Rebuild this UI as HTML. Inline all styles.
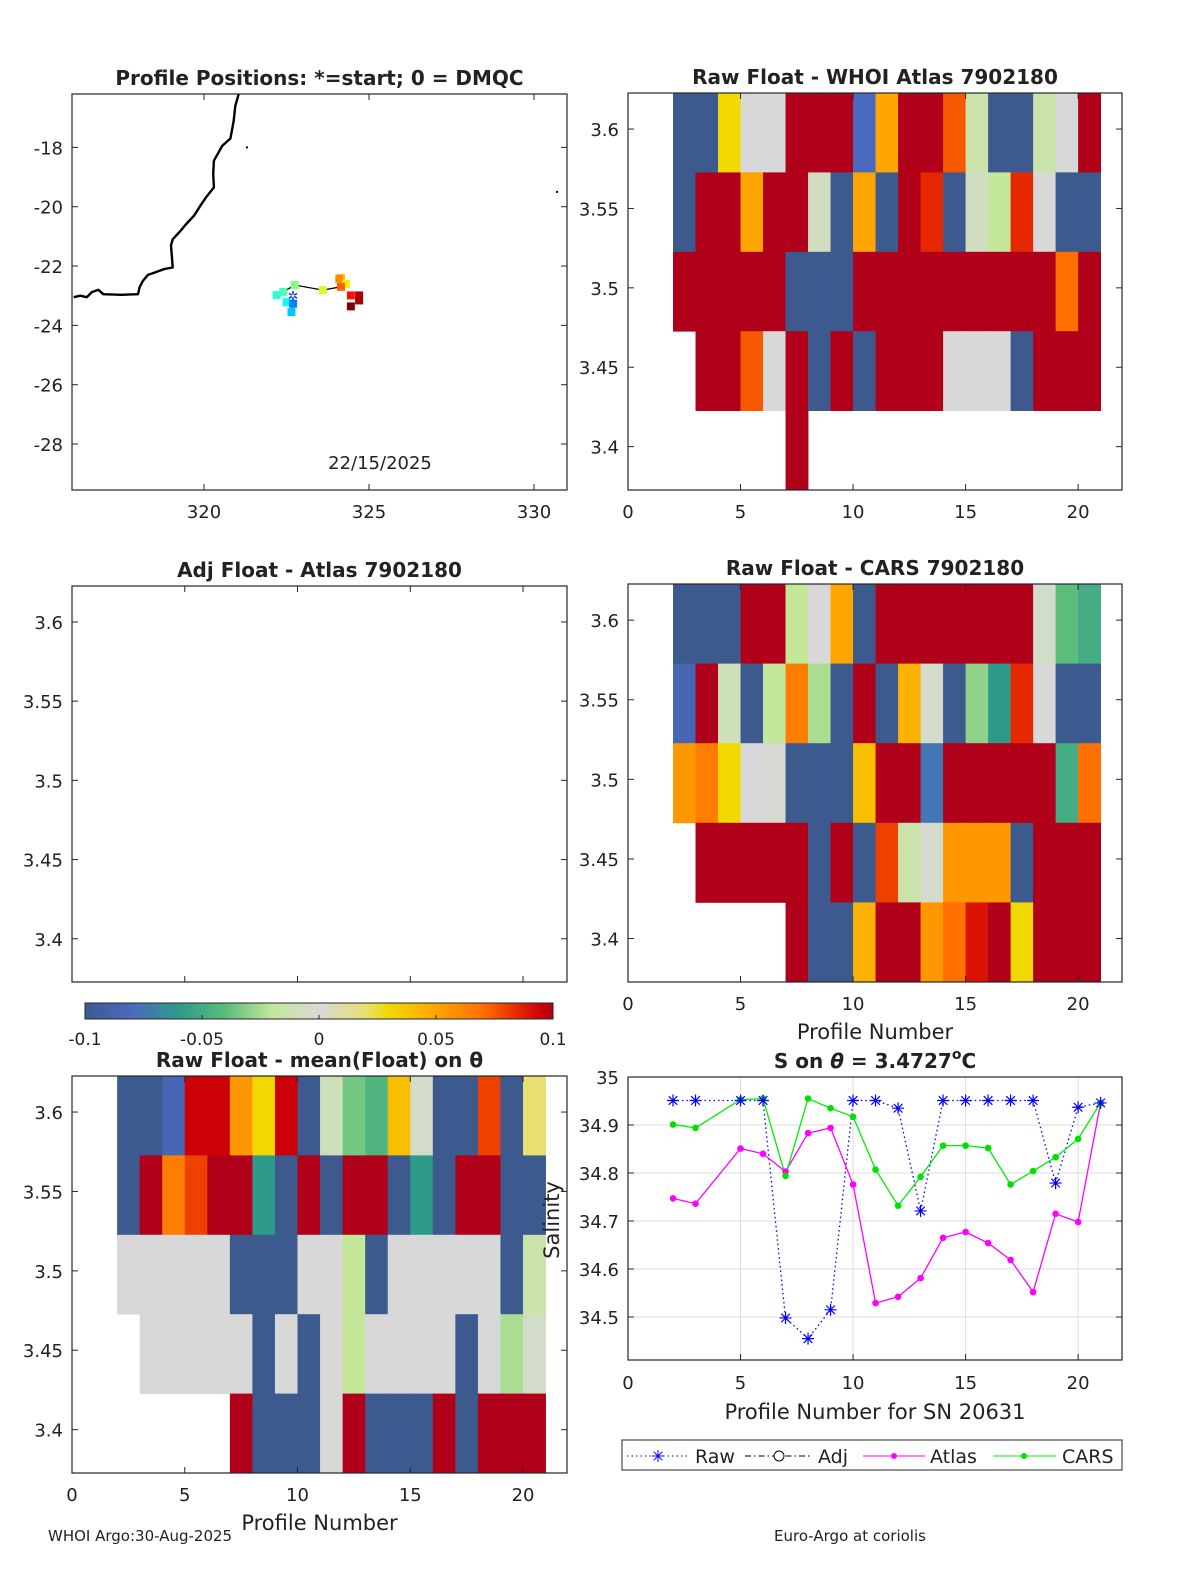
<!DOCTYPE html>
<html><head><meta charset="utf-8"><style>
html,body{margin:0;padding:0;background:#fff;}
svg{display:block;font-family:"DejaVu Sans","Liberation Sans",sans-serif;}
</style></head><body>
<svg id="fig" xmlns="http://www.w3.org/2000/svg" width="1200" height="1575" viewBox="0 0 1200 1575">
<rect x="0" y="0" width="1200" height="1575" fill="#fff"/>
<defs>
<linearGradient id="cbg" x1="0" x2="1" y1="0" y2="0">
<stop offset="0" stop-color="#3d5a8f"/><stop offset="0.1" stop-color="#4a6abf"/><stop offset="0.2" stop-color="#2e9a8a"/><stop offset="0.3" stop-color="#5bbd7b"/><stop offset="0.4" stop-color="#c4e79a"/><stop offset="0.5" stop-color="#d8d8d8"/><stop offset="0.6" stop-color="#e8e070"/><stop offset="0.65" stop-color="#f0d800"/><stop offset="0.75" stop-color="#ffa500"/><stop offset="0.85" stop-color="#ff7000"/><stop offset="0.925" stop-color="#e52800"/><stop offset="0.975" stop-color="#cc0008"/><stop offset="1" stop-color="#b0001a"/>
</linearGradient>
</defs>
<g id="root"></g>
</svg>
<script>
// ---------- data ----------
const profiles=[2,3,4,5,6,7,8,9,10,11,12,13,14,15,16,17,18,19,20];
const rowTops=[3.6227,3.5727,3.5227,3.4727,3.4227];
const whoiR1=[-0.1,-0.1,0.03,0,0,0.1,0.1,0.1,-0.08,0.05,0.1,0.1,0.075,-0.015,-0.1,-0.1,-0.015,0,0.1];
const whoiR2=[-0.1,0.1,0.1,0.05,0.1,0.1,-0.008,-0.1,0.05,-0.1,0.1,0.085,-0.1,-0.008,-0.02,0.085,0,-0.1,-0.1];
const whoiR3=[0.1,0.1,0.1,0.1,0.1,-0.1,-0.1,-0.1,0.1,0.1,0.1,0.1,0.1,0.1,0.1,0.1,0.1,0.07,0.1];
const whoiR4=[null,0.1,0.1,0.075,0,0.1,-0.1,0.1,-0.1,0.1,0.1,0.1,0,0,0,-0.1,0.1,0.1,0.1];
const whoiR5=[null,null,null,null,null,0.1,null,null,null,null,null,null,null,null,null,null,null,null,null];
const carsR1=[-0.1,-0.1,-0.1,0.1,0.1,-0.02,0,0.05,-0.1,0.1,0.1,0.1,0.1,0.1,0.1,0.1,-0.005,-0.04,-0.05];
const carsR2=[-0.085,0.1,-0.01,-0.1,-0.02,0.065,-0.025,-0.1,0.1,-0.1,0.045,-0.005,-0.1,-0.03,-0.06,0.085,0,-0.1,-0.1];
const carsR3=[0.055,0.065,0.03,0,-0.002,-0.1,-0.1,-0.1,0.04,0.1,0.1,-0.075,0.1,0.1,0.1,0.1,0.1,-0.05,0.07];
const carsR4=[null,0.1,0.1,0.1,0.1,0.1,-0.1,0.1,-0.1,0.08,-0.015,-0.003,0.055,0.055,0.055,-0.1,0.1,0.1,0.1];
const carsR5=[null,null,null,null,null,0.1,-0.1,-0.1,0.045,0.1,0.1,0.055,0.07,0.09,0.1,0.03,0.1,0.1,0.1];
const meanR1=[-0.1,-0.1,-0.085,0.095,0.095,0.055,0.03,0.095,-0.1,-0.01,-0.035,-0.045,0.04,-0.005,-0.1,-0.1,0.08,-0.1,0.02];
const meanR2=[-0.1,0.1,0.065,0.08,0.1,0.1,-0.06,-0.1,0.1,-0.1,0.1,0.1,-0.1,-0.06,-0.1,0.1,0.1,-0.1,-0.1];
const meanR3=[0,0,0,0,0,-0.1,-0.1,-0.1,0,0,-0.02,-0.1,0,0,0,0,0,-0.1,-0.015];
const meanR4=[null,0,0,0,0,0,-0.1,0,-0.1,0,-0.02,0,0,0,0,-0.1,0,-0.025,-0.005];
const meanR5=[null,null,null,null,null,0.1,-0.1,-0.1,-0.1,0,0.1,-0.1,-0.1,-0.1,0.1,-0.1,0.1,0.1,0.1];
const lineX=[2,3,5,6,7,8,9,10,11,12,13,14,15,16,17,18,19,20,21];
const rawS=[34.951,34.951,34.951,34.951,34.498,34.455,34.515,34.951,34.951,34.935,34.721,34.951,34.951,34.951,34.951,34.951,34.779,34.937,34.946];
const atlasS=[34.747,34.736,34.851,34.84,34.803,34.883,34.894,34.776,34.529,34.542,34.581,34.665,34.677,34.654,34.619,34.552,34.715,34.698,34.946];
const carsS=[34.901,34.894,34.953,34.955,34.794,34.955,34.935,34.917,34.807,34.732,34.792,34.857,34.857,34.852,34.776,34.804,34.833,34.871,34.946];
const xTicks=[0,5,10,15,20];
const thTicks=[3.6,3.55,3.5,3.45,3.4];
const thTickLabels=["3.6","3.55","3.5","3.45","3.4"];
const sTicks=[35,34.9,34.8,34.7,34.6,34.5];
const sTickLabels=["35","34.9","34.8","34.7","34.6","34.5"];
const cbTicks=[-0.1,-0.05,0,0.05,0.1];
const cbTickLabels=["-0.1","-0.05","0","0.05","0.1"];
const lonTicks=[320,325,330];
const latTicks=[-18,-20,-22,-24,-26,-28];
const coastLon=[321.05,320.95,320.9,320.85,320.8,320.55,320.3,320.28,320.3,320.05,319.9,319.7,319.45,319.3,319.05,319.0,319.05,318.8,318.55,318.3,318.15,318.05,318.0,317.5,316.95,316.8,316.6,316.45,316.25,316.05];
const coastLat=[-16.2,-16.6,-17.1,-17.4,-17.7,-17.95,-18.45,-18.9,-19.35,-19.7,-19.95,-20.3,-20.6,-20.8,-21.1,-21.3,-22.05,-22.1,-22.2,-22.3,-22.5,-22.7,-22.95,-22.97,-22.95,-22.8,-22.88,-23.05,-23.0,-23.05];
const posLon=[322.2,322.4,322.75,322.5,322.7,322.65,323.6,324.15,324.1,324.3,324.15,324.45,324.7,324.7,324.45];
const posLat=[-22.98,-22.87,-22.64,-23.22,-23.27,-23.55,-22.81,-22.4,-22.43,-22.6,-22.7,-22.99,-22.99,-23.16,-23.36];
const posVal=[0.42,0.45,0.5,0.38,0.25,0.32,0.58,0.68,0.74,0.64,0.78,0.86,0.95,0.96,1.0];

const NS="http://www.w3.org/2000/svg";
const root=document.getElementById('root');
function mk(tag,attrs,parent){const e=document.createElementNS(NS,tag);for(const k in attrs)e.setAttribute(k,attrs[k]);(parent||root).appendChild(e);return e;}
function txt(s,x,y,size,anchor,weight,parent){const t=mk('text',{x:x,y:y,'font-size':size,'text-anchor':anchor||'middle','font-weight':weight||'normal',fill:'#222'},parent);t.textContent=s;return t;}

const cmV=[-0.1,-0.08,-0.06,-0.04,-0.02,0,0.02,0.03,0.05,0.07,0.085,0.095,0.1];
const cmC=[[61,90,143],[74,106,191],[46,154,138],[91,189,123],[196,231,154],[216,216,216],[232,224,112],[240,216,0],[255,165,0],[255,112,0],[229,40,0],[204,0,8],[176,0,26]];
function cmap(v){v=Math.max(-0.1,Math.min(0.1,v));for(let i=0;i<cmV.length-1;i++){if(v<=cmV[i+1]){const t=(v-cmV[i])/(cmV[i+1]-cmV[i]);const a=cmC[i],b=cmC[i+1];return 'rgb('+a.map((c,j)=>Math.round(c+(b[j]-c)*t)).join(',')+')';}}return 'rgb(176,0,26)';}

function axisFns(L,T,W,H,x0,x1,y0,y1){return{x:v=>L+(v-x0)/(x1-x0)*W,y:v=>T+(y1-v)/(y1-y0)*H};}
function frame(g,L,T,W,H,name){const r=mk('rect',{x:L,y:T,width:W,height:H,fill:'none',stroke:'#262626','stroke-width':1.2},g);}

function heatPanel(name,L,T,W,H,rows,title,showXlabel,showXticks){
  const g=mk('g',{});
  
  
  const ax=axisFns(L,T,W,H,0,21.95,3.3727,3.6227);
  if(rows){rows.forEach((row,ri)=>{row.forEach((v,ci)=>{if(v===null)return;const p=profiles[ci];const x=ax.x(p),x2=ax.x(p+1),y=ax.y(rowTops[ri]),y2=ax.y(rowTops[ri]-0.05);
    const c=mk('rect',{x:x,y:y,width:x2-x+0.4,height:y2-y+0.4,fill:cmap(v)},g);
    
    });});}
  frame(g,L,T,W,H,'plot-frame');
  thTicks.forEach((t,i)=>{const y=ax.y(t);mk('line',{x1:L,x2:L+6,y1:y,y2:y,stroke:'#262626'},g);mk('line',{x1:L+W,x2:L+W-6,y1:y,y2:y,stroke:'#262626'},g);
    const lb=txt(thTickLabels[i],L-9,y+7,18,'end','normal',g);});
  xTicks.forEach((t,i)=>{const x=ax.x(t);mk('line',{x1:x,x2:x,y1:T+H,y2:T+H-6,stroke:'#262626'},g);mk('line',{x1:x,x2:x,y1:T,y2:T+6,stroke:'#262626'},g);
    if(showXticks){const lb=txt(String(t),x,T+H+28,18,'middle','normal',g);}});
  const tt=txt(title,L+W/2,T-9,20,'middle','bold',g);
  if(showXlabel){const xl=txt('Profile Number',L+W/2,T+H+57,21,'middle','normal',g);}
}

// ---------- map panel ----------
(function(){
  const g=mk('g',{});
  
  
  const L=72,T=94,W=495,H=396;
  const ax=axisFns(L,T,W,H,316,331,-29.55,-16.2);
  const pts=coastLon.map((lo,i)=>ax.x(lo).toFixed(1)+','+ax.y(coastLat[i]).toFixed(1)).join(' ');
  const cl=mk('polyline',{points:pts,fill:'none',stroke:'#000','stroke-width':2.4,'stroke-linejoin':'round'},g);
  
  
  mk('rect',{x:ax.x(321.3)-1,y:ax.y(-18)-1,width:2,height:2,fill:'#000'},g);
  mk('rect',{x:ax.x(330.7)-1,y:ax.y(-19.5)-1,width:2,height:2,fill:'#000'},g);
  const tp=[0,1,2,6,10].map(i=>ax.x(posLon[i]).toFixed(1)+','+ax.y(posLat[i]).toFixed(1)).join(' ');
  mk('polyline',{points:tp,fill:'none',stroke:'#000','stroke-width':1.3},g);
  mk('polyline',{points:[3,4,5].map(i=>ax.x(posLon[i]).toFixed(1)+','+ax.y(posLat[i]).toFixed(1)).join(' '),fill:'none',stroke:'#000','stroke-width':1.3},g);
  const jet=v=>{const r=Math.max(0,Math.min(1,1.5-Math.abs(4*v-3))),gg=Math.max(0,Math.min(1,1.5-Math.abs(4*v-2))),b=Math.max(0,Math.min(1,1.5-Math.abs(4*v-1)));return 'rgb('+[r,gg,b].map(c=>Math.round(c*255)).join(',')+')';};
  posLon.forEach((lo,i)=>{const m=mk('rect',{x:ax.x(lo)-4,y:ax.y(posLat[i])-4,width:8,height:8,fill:jet(posVal[i])},g);
    
    });
  const st=mk('text',{x:ax.x(322.7),y:ax.y(-23.0)+5,'font-size':13,'text-anchor':'middle',fill:'#1030e0','font-weight':'bold'},g);st.textContent='✲';
  
  
  frame(g,L,T,W,H,'map-frame');
  lonTicks.forEach(t=>{const x=ax.x(t);mk('line',{x1:x,x2:x,y1:T+H,y2:T+H-6,stroke:'#262626'},g);mk('line',{x1:x,x2:x,y1:T,y2:T+6,stroke:'#262626'},g);
    const lb=txt(String(t),x,T+H+28,18,'middle','normal',g);});
  latTicks.forEach(t=>{const y=ax.y(t);mk('line',{x1:L,x2:L+6,y1:y,y2:y,stroke:'#262626'},g);mk('line',{x1:L+W,x2:L+W-6,y1:y,y2:y,stroke:'#262626'},g);
    const lb=txt(String(t),L-9,y+7,18,'end','normal',g);});
  const tt=txt('Profile Positions: *=start; 0 = DMQC',L+W/2,T-9,20,'middle','bold',g);
  const d=txt('22/15/2025',380,469,18,'middle','normal',g);
})();

heatPanel('whoi-heatmap-panel',628,93,494,397,[whoiR1,whoiR2,whoiR3,whoiR4,whoiR5],'Raw Float - WHOI Atlas  7902180',false,true);
heatPanel('adj-atlas-panel',72,586,495,396,null,'Adj Float - Atlas  7902180',false,false);
heatPanel('cars-heatmap-panel',628,584,494,398,[carsR1,carsR2,carsR3,carsR4,carsR5],'Raw Float - CARS  7902180',true,true);
heatPanel('mean-heatmap-panel',72,1076,495,397,[meanR1,meanR2,meanR3,meanR4,meanR5],'Raw Float - mean(Float) on \u03B8',true,true);

// colorbar
(function(){
  const g=mk('g',{});
  
  
  const L=85,W=468,T=1003,H=16;
  mk('rect',{x:L,y:T,width:W,height:H,fill:'url(#cbg)',stroke:'#262626','stroke-width':1},g);
  cbTicks.forEach((t,i)=>{const x=L+(t+0.1)/0.2*W;mk('line',{x1:x,x2:x,y1:T+H,y2:T+H-4,stroke:'#262626'},g);
    const lb=txt(cbTickLabels[i],x,T+H+26,17,'middle','normal',g);});
})();

// line chart
(function(){
  const g=mk('g',{});
  
  
  const L=628,T=1077,W=494,H=283;
  const ax=axisFns(L,T,W,H,0,21.95,34.4104,35);
  xTicks.forEach(t=>{if(t>0)mk('line',{x1:ax.x(t),x2:ax.x(t),y1:T,y2:T+H,stroke:'#dcdcdc'},g);});
  sTicks.forEach(t=>{if(t<35)mk('line',{x1:L,x2:L+W,y1:ax.y(t),y2:ax.y(t),stroke:'#dcdcdc'},g);});
  function series(vals,color,dash,name){const pts=lineX.map((x,i)=>ax.x(x).toFixed(1)+','+ax.y(vals[i]).toFixed(1)).join(' ');
    const pl=mk('polyline',{points:pts,fill:'none',stroke:color,'stroke-width':1.3,'stroke-dasharray':dash||'none'},g);
    
    }
  series(rawS,'#0000ff','1.5,3','raw');
  series(atlasS,'#ff00ff','','atlas');
  series(carsS,'#00ee00','','cars');
  lineX.forEach((x,i)=>{const cx=ax.x(x),cy=ax.y(atlasS[i]);const m=mk('circle',{cx:cx,cy:cy,r:3.3,fill:'#ff00ff'},g);
    
    });
  lineX.forEach((x,i)=>{const cx=ax.x(x),cy=ax.y(carsS[i]);const m=mk('circle',{cx:cx,cy:cy,r:3.3,fill:'#00e000'},g);
    
    });
  lineX.forEach((x,i)=>{const cx=ax.x(x),cy=ax.y(rawS[i]);const s=mk('path',{d:`M${cx-6},${cy}H${cx+6}M${cx},${cy-6}V${cy+6}M${cx-4.3},${cy-4.3}L${cx+4.3},${cy+4.3}M${cx-4.3},${cy+4.3}L${cx+4.3},${cy-4.3}`,stroke:'#0000ff','stroke-width':1.2,fill:'none'},g);
    
    });
  frame(g,L,T,W,H,'plot-frame');
  sTicks.forEach((t,i)=>{const y=ax.y(t);mk('line',{x1:L,x2:L+6,y1:y,y2:y,stroke:'#262626'},g);mk('line',{x1:L+W,x2:L+W-6,y1:y,y2:y,stroke:'#262626'},g);
    const lb=txt(sTickLabels[i],L-9,y+7,18,'end','normal',g);});
  xTicks.forEach(t=>{const x=ax.x(t);mk('line',{x1:x,x2:x,y1:T+H,y2:T+H-6,stroke:'#262626'},g);
    const lb=txt(String(t),x,T+H+29,18,'middle','normal',g);});
  const tt=mk('text',{x:L+W/2,y:T-9,'font-size':20,'text-anchor':'middle','font-weight':'bold',fill:'#222'},g);
  tt.innerHTML='S on <tspan font-style="italic">\u03B8</tspan> = 3.4727<tspan font-size="14" dy="-9">o</tspan><tspan dy="9">C</tspan>';
  
  
  const xl=txt('Profile Number for SN 20631',L+W/2,T+H+59,21,'middle','normal',g);
  const yl=mk('text',{x:0,y:0,'font-size':21,'text-anchor':'middle',fill:'#222',transform:'translate(559,1220) rotate(-90)'},g);yl.textContent='Salinity';
  
  
  const lg=mk('g',{},g);
  
  
  mk('rect',{x:622,y:1440,width:500,height:30,fill:'#fff',stroke:'#262626','stroke-width':1},lg);
  const ly=1456;
  mk('line',{x1:627,x2:690,y1:ly,y2:ly,stroke:'#0000ff','stroke-dasharray':'1.5,3'},lg);
  mk('path',{d:`M652,${ly}H664M658,${ly-6}V${ly+6}M653.7,${ly-4.3}L662.3,${ly+4.3}M653.7,${ly+4.3}L662.3,${ly-4.3}`,stroke:'#0000ff',fill:'none'},lg);
  let t1=txt('Raw',695,ly+7,19,'start','normal',lg);
  mk('line',{x1:745,x2:812,y1:ly,y2:ly,stroke:'#000','stroke-dasharray':'6,3,1.5,3'},lg);
  mk('circle',{cx:779,cy:ly,r:5,fill:'#fff',stroke:'#000'},lg);
  let t2=txt('Adj',818,ly+7,19,'start','normal',lg);
  mk('line',{x1:863,x2:925,y1:ly,y2:ly,stroke:'#ff00ff'},lg);
  mk('circle',{cx:894,cy:ly,r:3,fill:'#ff00ff'},lg);
  let t3=txt('Atlas',930,ly+7,19,'start','normal',lg);
  mk('line',{x1:993,x2:1056,y1:ly,y2:ly,stroke:'#00ee00'},lg);
  mk('circle',{cx:1024,cy:ly,r:3,fill:'#00e000'},lg);
  let t4=txt('CARS',1062,ly+7,19,'start','normal',lg);
})();

const f1=txt('WHOI Argo:30-Aug-2025',48,1541,15,'start','normal');


const f2=txt('Euro-Argo at coriolis',850,1541,15,'middle','normal');


</script>
</body></html>
